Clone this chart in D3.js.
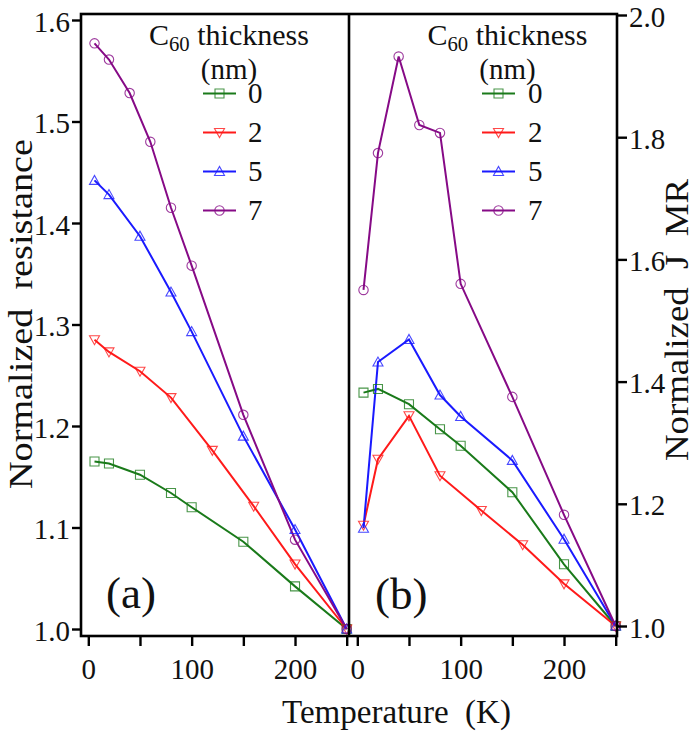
<!DOCTYPE html>
<html><head><meta charset="utf-8">
<script src="https://cdn.jsdelivr.net/npm/d3@7"></script>
<style>body{margin:0;background:#fff}</style>
</head><body>
<svg id="c" width="695" height="735"></svg>
<script>
// ---------- data ----------
const thicknesses = ["0", "2", "5", "7"];
const seriesColors = ["#1a7a1a", "#ff1a1a", "#1a1aff", "#860a86"];
const seriesMarkers = ["square", "triDown", "triUp", "circle"];

// Panel (a): normalized resistance
const aT0 = [6, 20, 50, 80, 100, 150, 200, 250];
const aR0 = [1.165, 1.163, 1.152, 1.134, 1.120, 1.086, 1.042, 1.0];
const aT2 = [6, 20, 50, 80, 120, 160, 200, 250];
const aR2 = [1.285, 1.273, 1.254, 1.228, 1.176, 1.121, 1.064, 1.0];
const aT5 = [6, 20, 50, 80, 100, 150, 200, 250];
const aR5 = [1.442, 1.428, 1.387, 1.332, 1.293, 1.190, 1.098, 1.0];
const aT7 = [6, 20, 40, 60, 80, 100, 150, 200, 250];
const aR7 = [1.577, 1.561, 1.528, 1.480, 1.415, 1.358, 1.211, 1.088, 1.0];

// Panel (b): normalized J MR
const bT0 = [6, 20, 50, 80, 100, 150, 200, 250];
const bM0 = [1.382, 1.388, 1.363, 1.322, 1.295, 1.219, 1.101, 1.0];
const bT2 = [6, 20, 50, 80, 120, 160, 200, 250];
const bM2 = [1.165, 1.273, 1.344, 1.246, 1.189, 1.133, 1.069, 1.0];
const bT5 = [6, 20, 50, 80, 100, 150, 200, 250];
const bM5 = [1.160, 1.432, 1.469, 1.378, 1.343, 1.271, 1.142, 1.0];
const bT7 = [6, 20, 40, 60, 80, 100, 150, 200, 250];
const bM7 = [1.550, 1.774, 1.932, 1.820, 1.807, 1.560, 1.375, 1.182, 1.0];

const xTicks = [0, 50, 100, 150, 200, 250];
const xTickLabels = ["0", "", "100", "", "200", ""];
const yTicksA = [1.0, 1.1, 1.2, 1.3, 1.4, 1.5, 1.6];
const yTicksB = [1.0, 1.2, 1.4, 1.6, 1.8, 2.0];

// ---------- drawing ----------
const F = '"Liberation Serif"';
const svg = d3.select("#c");

const frameL = 81, frameM = 349, frameR = 617, frameT = 14, frameB = 636;

const xA = d3.scaleLinear().domain([0, 250]).range([88.3, 346.7]);
const xB = d3.scaleLinear().domain([0, 250]).range([357.3, 615.7]);
const yA = d3.scaleLinear().domain([1.0, 1.6]).range([629, 20]);
const yB = d3.scaleLinear().domain([1.0, 2.0]).range([626, 15]);

function zip(T, V) { return T.map((t, i) => ({ t: t, v: V[i] })); }

const panelA = [zip(aT0, aR0), zip(aT2, aR2), zip(aT5, aR5), zip(aT7, aR7)];
const panelB = [zip(bT0, bM0), zip(bT2, bM2), zip(bT5, bM5), zip(bT7, bM7)];

function markerPath(kind, x, y) {
  const p = d3.path();
  if (kind === "square") {
    p.rect(x - 4.5, y - 4.5, 9, 9);
  } else if (kind === "triDown") {
    p.moveTo(x - 5, y - 4); p.lineTo(x + 5, y - 4); p.lineTo(x, y + 5); p.closePath();
  } else if (kind === "triUp") {
    p.moveTo(x - 5, y + 4); p.lineTo(x + 5, y + 4); p.lineTo(x, y - 5); p.closePath();
  } else {
    p.moveTo(x + 4.7, y); p.arc(x, y, 4.7, 0, 2 * Math.PI);
  }
  return p.toString();
}

function drawPanel(data, xs, ys) {
  const g = svg.append("g");
  const line = d3.line().x(d => xs(d.t)).y(d => ys(d.v));
  data.forEach((s, i) => {
    g.append("path").attr("d", line(s)).attr("fill", "none")
      .attr("stroke", seriesColors[i]).attr("stroke-width", 2);
  });
  data.forEach((s, i) => {
    g.selectAll(null).data(s).enter().append("path")
      .attr("d", d => markerPath(seriesMarkers[i], xs(d.t), ys(d.v)))
      .attr("fill", "none").attr("stroke", seriesColors[i]).attr("stroke-width", 1.1)
      .attr("stroke-opacity", 0.8);
  });
}
drawPanel(panelA, xA, yA);
drawPanel(panelB, xB, yB);

// frame
const frame = svg.append("g").attr("stroke", "#000").attr("stroke-width", 2.6).attr("fill", "none");
frame.append("rect").attr("x", frameL).attr("y", frameT).attr("width", frameR - frameL).attr("height", frameB - frameT);
frame.append("line").attr("x1", frameM).attr("x2", frameM).attr("y1", frameT).attr("y2", frameB);

function styleAxis(g) {
  g.attr("font-family", null).attr("font-size", null);
  g.select(".domain").remove();
  g.selectAll(".tick line").attr("stroke", "#000").attr("stroke-width", 2.4);
  g.selectAll(".tick text").style("font-family", F).style("font-size", "29px").attr("fill", "#111");
}

// x axes
[xA, xB].forEach(xs => {
  const ax = svg.append("g").attr("transform", `translate(0,${frameB - 1})`)
    .call(d3.axisBottom(xs).tickValues(xTicks).tickSize(11)
      .tickFormat((d, i) => xTickLabels[i]));
  styleAxis(ax);
  ax.selectAll(".tick text").attr("y", 23).attr("dy", "0.71em");
});

// left y axis
const ayA = svg.append("g").attr("transform", `translate(${frameL + 1},0)`)
  .call(d3.axisLeft(yA).tickValues(yTicksA).tickSize(10).tickPadding(2).tickFormat(d3.format(".1f")));
styleAxis(ayA);
ayA.selectAll(".tick text").attr("dy", "0.38em");

// right y axis
const ayB = svg.append("g").attr("transform", `translate(${frameR - 1},0)`)
  .call(d3.axisRight(yB).tickValues(yTicksB).tickSize(11).tickPadding(2).tickFormat(d3.format(".1f")));
styleAxis(ayB);
ayB.selectAll(".tick text").attr("dy", "0.38em");

function txt(sel) { return sel.style("font-family", F).attr("fill", "#111"); }

// axis titles
txt(svg.append("text")).attr("x", 396.5).attr("y", 723).attr("text-anchor", "middle")
  .style("font-size", "33px")
  .attr("textLength", 229).attr("lengthAdjust", "spacingAndGlyphs")
  .attr("xml:space", "preserve").text("Temperature  (K)");

txt(svg.append("text")).attr("transform", "translate(32,314) rotate(-90)").attr("text-anchor", "middle")
  .style("font-size", "33px")
  .attr("textLength", 350).attr("lengthAdjust", "spacingAndGlyphs")
  .attr("xml:space", "preserve").text("Normalized  resistance");

txt(svg.append("text")).attr("transform", "translate(688,320) rotate(-90)").attr("text-anchor", "middle")
  .style("font-size", "33px")
  .attr("textLength", 282).attr("lengthAdjust", "spacingAndGlyphs")
  .attr("xml:space", "preserve").text("Normalized  J  MR");

// panel labels
txt(svg.append("text")).attr("x", 106).attr("y", 608).style("font-size", "45px").text("(a)");
txt(svg.append("text")).attr("x", 375).attr("y", 609).style("font-size", "45px").text("(b)");

// legends
function legend(cx, lineX0, lineX1, labelX) {
  const g = svg.append("g");
  const t = txt(g.append("text")).attr("x", cx).attr("y", 45).attr("text-anchor", "middle")
    .style("font-size", "29px")
    .attr("textLength", 160).attr("lengthAdjust", "spacingAndGlyphs");
  t.append("tspan").text("C");
  t.append("tspan").style("font-size", "20px").attr("dy", 6).text("60");
  t.append("tspan").attr("dy", -6).text(" thickness");
  txt(g.append("text")).attr("x", cx).attr("y", 79).attr("text-anchor", "middle")
    .style("font-size", "29px").text("(nm)");
  const rows = [93.5, 132.5, 171.5, 210.5];
  thicknesses.forEach((lab, i) => {
    const y = rows[i];
    g.append("line").attr("x1", lineX0).attr("x2", lineX1).attr("y1", y).attr("y2", y)
      .attr("stroke", seriesColors[i]).attr("stroke-width", 2);
    g.append("path").attr("d", markerPath(seriesMarkers[i], (lineX0 + lineX1) / 2, y))
      .attr("fill", "none").attr("stroke", seriesColors[i]).attr("stroke-width", 1.1).attr("stroke-opacity", 0.8);
    txt(g.append("text")).attr("x", labelX).attr("y", y + 9.5)
      .style("font-size", "29px").text(lab);
  });
}
legend(229, 203, 236, 248);
legend(507.5, 482, 515, 528);
</script>
</body></html>
